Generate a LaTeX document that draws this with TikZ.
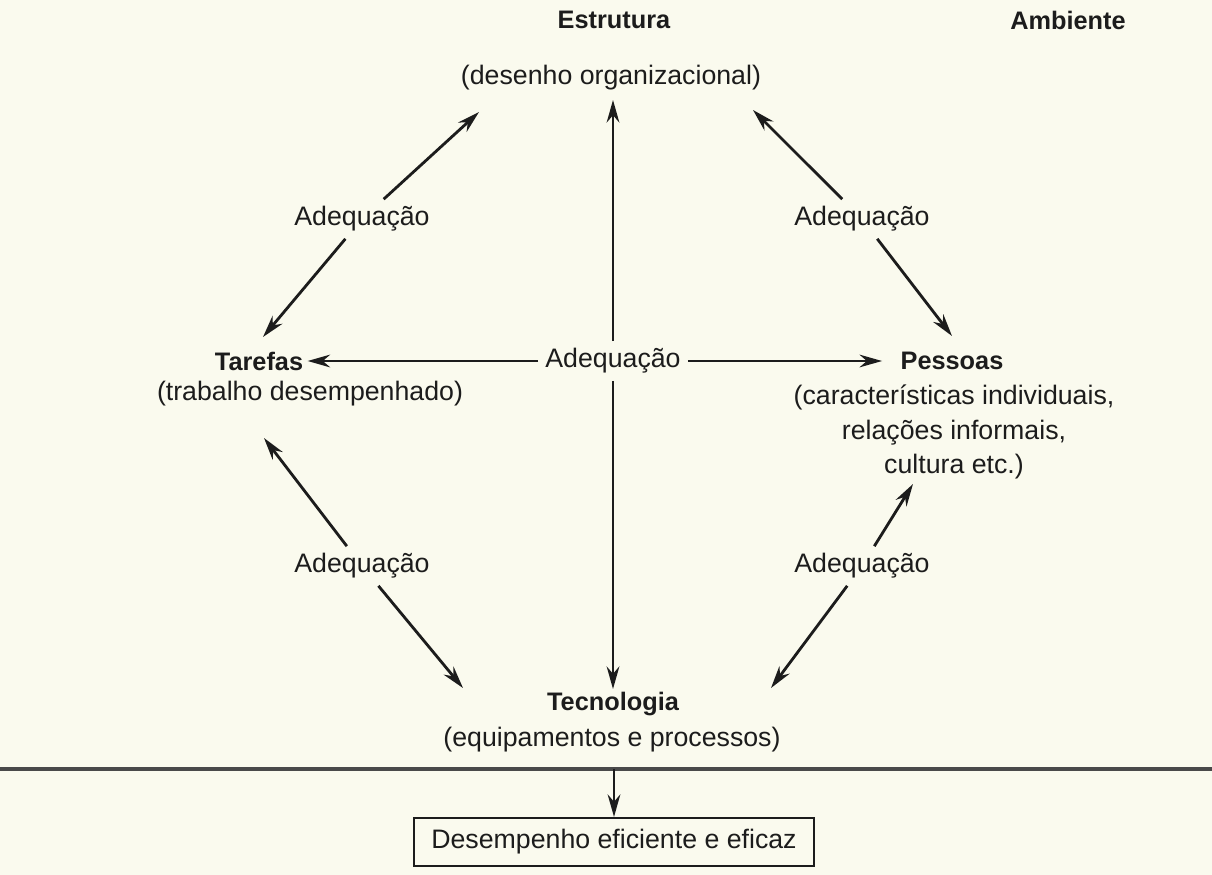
\documentclass[tikz,border=0pt]{standalone}
\usepackage{fontspec}
\setmainfont{Liberation Sans}
\usetikzlibrary{arrows.meta}
\definecolor{paper}{RGB}{250,250,238}
\definecolor{ink}{RGB}{28,28,28}

\begin{document}
\begin{tikzpicture}[x=0.025cm,y=-0.025cm,
    lbl/.style={text=ink,font=\fontsize{18}{22}\selectfont\bfseries,inner sep=3pt},
    sub/.style={text=ink,font=\fontsize{19}{24.8}\selectfont,align=center,inner sep=3pt},
    adq/.style={text=ink,font=\fontsize{19}{22}\selectfont,inner sep=5pt},
    arr/.style={draw=ink,line width=2pt,-{Stealth[length=16pt,width=9pt]}}]
    \fill[paper] (0,0) rectangle (1212,875);
    \useasboundingbox (0,0) rectangle (1212,875);

    % components
    \node[lbl] (estrutura) at (614,20) {Estrutura};
    \node[sub] (desenho) at (611,78) {(desenho organizacional)};
    \node[lbl] (ambiente) at (1068,20) {Ambiente};
    \node[lbl] (tarefas) at (259,361) {Tarefas};
    \node[sub] (trabalho) at (310,394) {(trabalho desempenhado)};
    \node[lbl] (pessoas) at (952,361) {Pessoas};
    \node[sub,anchor=north] (caract) at (954,380) {(características individuais,\\relações informais,\\cultura etc.)};
    \node[lbl] (tecnologia) at (613,704) {Tecnologia};
    \node[sub] (equip) at (612,740) {(equipamentos e processos)};
    \node[sub,draw=ink,line width=1.5pt,minimum width=400*0.025cm,minimum height=48*0.025cm] (desempenho) at (614,842) {Desempenho eficiente e eficaz};

    % adequacoes
    \node[adq] (adqTL) at (362,219) {Adequação};
    \node[adq] (adqTR) at (862,219) {Adequação};
    \node[adq] (adqC) at (613,361) {Adequação};
    \node[adq] (adqBL) at (362,566) {Adequação};
    \node[adq] (adqBR) at (862,566) {Adequação};

    % arrow tips
    \coordinate (tipTLup) at (479,112);
    \coordinate (tipTLdn) at (263,337);
    \coordinate (tipTRup) at (753,110);
    \coordinate (tipTRdn) at (952,336);
    \coordinate (tipBLup) at (264,438);
    \coordinate (tipBLdn) at (463,688);
    \coordinate (tipBRup) at (913,484);
    \coordinate (tipBRdn) at (771,688);
    \coordinate (tipCup) at (613,100);
    \coordinate (tipCdn) at (613,689);
    \coordinate (ruleL) at (0,769);
    \coordinate (ruleR) at (1212,769);
    \coordinate (ruleM) at (614,769);

    \draw[arr] (adqTL) -- (tipTLup);
    \draw[arr] (adqTL) -- (tipTLdn);
    \draw[arr] (adqTR) -- (tipTRup);
    \draw[arr] (adqTR) -- (tipTRdn);
    \draw[arr] (adqBL) -- (tipBLup);
    \draw[arr] (adqBL) -- (tipBLdn);
    \draw[arr] (adqBR) -- (tipBRup);
    \draw[arr] (adqBR) -- (tipBRdn);
    \draw[arr] (adqC) -- (tipCup);
    \draw[arr] (adqC) -- (tipCdn);
    \draw[arr] (adqC) -- (tarefas);
    \draw[arr,shorten >=10pt] (adqC) -- (pessoas);

    % output
    \draw[draw=ink!80,line width=2.4pt] (ruleL) -- (ruleR);
    \draw[arr] (ruleM) -- (desempenho);
\end{tikzpicture}
\end{document}
